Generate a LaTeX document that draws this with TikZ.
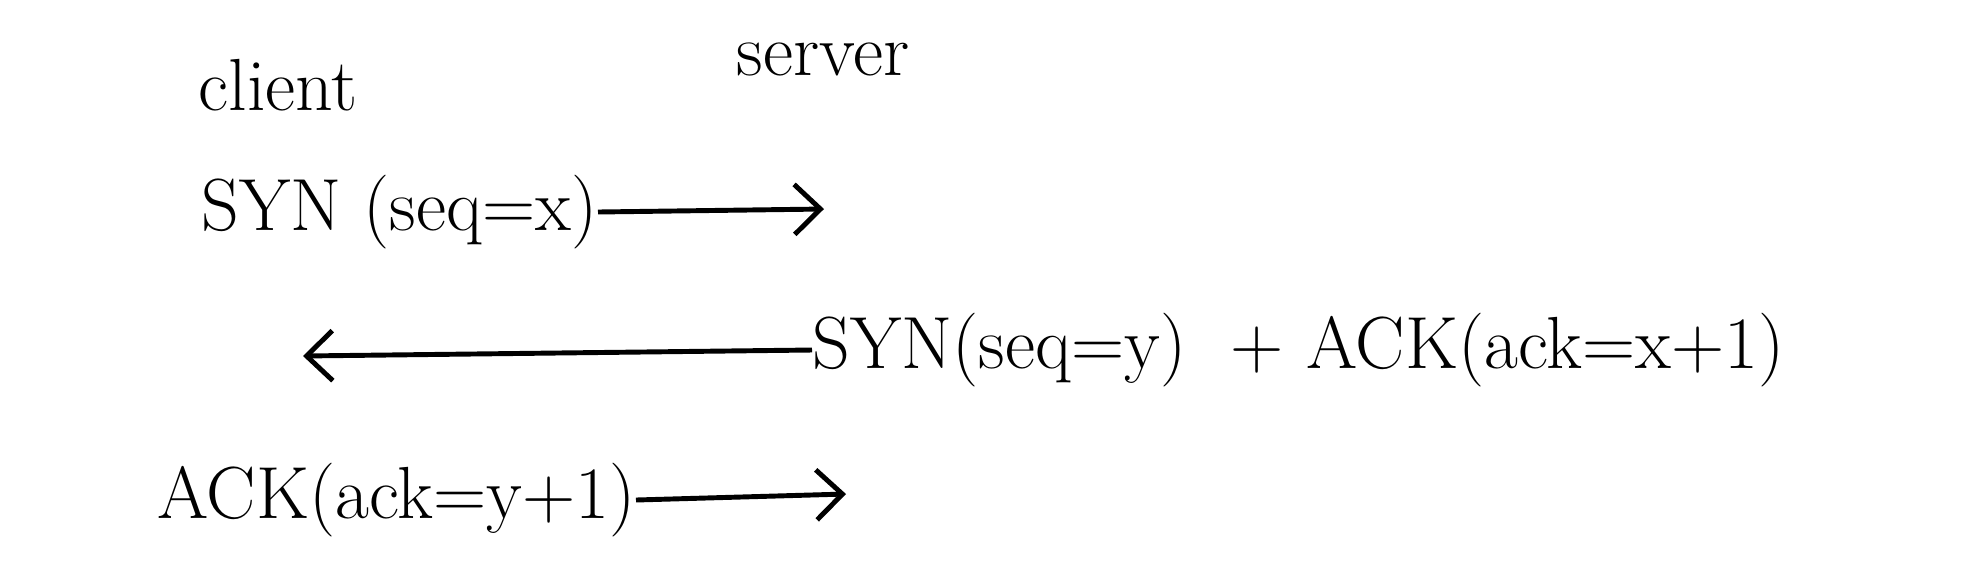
\documentclass[tikz,border=0pt]{standalone}
\usetikzlibrary{arrows.meta}
\begin{document}
\begin{tikzpicture}[x=0.01cm, y=-0.01cm,
    every node/.style={font=\fontsize{21}{25}\selectfont, inner sep=0pt},
    msg/.style={-{Straight Barb[length=2.6mm, width=5mm, line width=1.4pt]}, line width=1.4pt}]
      \useasboundingbox (0,0) rectangle (1963,584);
      % Participantes
      \node (client) at (278,85) {client};
      \node (server) at (823,59) {server};

      % Mensajes del saludo
      \node[anchor=east] (syn) at (598,212) {SYN (seq=x)};
      \coordinate (synend) at (824,209);
      \node[anchor=west] (synack) at (812,350) {SYN(seq=y)\ \ +\ ACK(ack=x+1)};
      \coordinate (synackend) at (303,356);
      \node[anchor=east] (ack) at (636,500) {ACK(ack=y+1)};
      \coordinate (ackend) at (846,494);

      % Flechas
      \draw[msg] (syn.east) -- (synend);
      \draw[msg] (synack.west) -- (synackend);
      \draw[msg] (ack.east) -- (ackend);
    \end{tikzpicture}
\end{document}
